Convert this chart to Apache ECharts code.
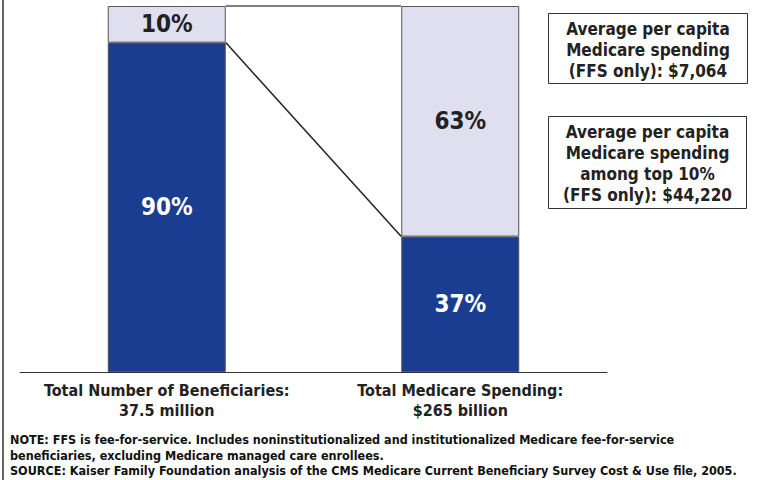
<!DOCTYPE html>
<html>
<head>
<meta charset="utf-8">
<script src="https://cdn.jsdelivr.net/npm/echarts@6/dist/echarts.min.js"></script>
<style>
  html, body { margin: 0; padding: 0; background: #fff; }
  #chart { width: 760px; height: 480px; }
</style>
</head>
<body>
<div id="chart"></div>
<script>
// Share of FFS beneficiaries vs. share of Medicare spending
const categories = ['Total Number of Beneficiaries:\n37.5 million', 'Total Medicare Spending:\n$265 billion'];
const bottom90Share = [90, 37];   // bottom 90% of beneficiaries
const top10Share = [10, 63];      // top 10% of beneficiaries
const boxTexts = [
  'Average per capita\nMedicare spending\n(FFS only): $7,064',
  'Average per capita\nMedicare spending\namong top 10%\n(FFS only): $44,220'
];
const noteLines = [
  'NOTE: FFS is fee-for-service. Includes noninstitutionalized and institutionalized Medicare fee-for-service',
  'beneficiaries, excluding Medicare managed care enrollees.',
  'SOURCE: Kaiser Family Foundation analysis of the CMS Medicare Current Beneficiary Survey Cost & Use file, 2005.'
];

const FONT = '"DejaVu Sans Condensed", "DejaVu Sans", Verdana, sans-serif';
const DARK = '#1b3d91';
const LIGHT = '#dfdfef';
const BAR_W = 118;

// series lines join the segment tops of the two stacked bars
const seriesLineData = [
  [bottom90Share[0], bottom90Share[1]],
  [bottom90Share[0] + top10Share[0], bottom90Share[1] + top10Share[1]]
];

const chart = echarts.init(document.getElementById('chart'), null, { renderer: 'svg' });

chart.setOption({
  animation: false,
  grid: { left: 20, right: 153, top: 6, bottom: 108 },
  xAxis: {
    type: 'category',
    data: categories,
    axisLine: { lineStyle: { color: '#333', width: 1 } },
    axisTick: { show: false },
    axisLabel: {
      interval: 0,
      margin: 8,
      color: '#222',
      fontFamily: FONT,
      fontWeight: 'bold',
      fontSize: 16,
      lineHeight: 20,
      align: 'center'
    }
  },
  yAxis: { type: 'value', min: 0, max: 100, show: false },
  series: [
    {
      type: 'bar',
      stack: 'share',
      barWidth: BAR_W,
      data: bottom90Share,
      itemStyle: { color: DARK, borderColor: '#555', borderWidth: 1 },
      label: {
        show: true, position: 'inside', formatter: '{c}%',
        color: '#fff', fontFamily: FONT, fontWeight: 'bold', fontSize: 24
      }
    },
    {
      type: 'bar',
      stack: 'share',
      barWidth: BAR_W,
      data: top10Share,
      itemStyle: { color: LIGHT, borderColor: '#555', borderWidth: 1 },
      label: {
        show: true, position: 'inside', formatter: '{c}%',
        color: '#222', fontFamily: FONT, fontWeight: 'bold', fontSize: 24
      }
    },
    {
      type: 'custom',
      coordinateSystem: 'cartesian2d',
      silent: true,
      z: 5,
      data: seriesLineData,
      renderItem: function (params, api) {
        const p0 = api.coord([0, api.value(0)]);
        const p1 = api.coord([1, api.value(1)]);
        return {
          type: 'line',
          shape: { x1: p0[0] + BAR_W / 2, y1: p0[1], x2: p1[0] - BAR_W / 2, y2: p1[1] },
          style: { stroke: params.dataIndex === 0 ? '#222' : '#555', lineWidth: 1.5 }
        };
      }
    }
  ],
  graphic: [
    { type: 'line', shape: { x1: 3, y1: 0, x2: 3, y2: 480 }, style: { stroke: '#666', lineWidth: 2 } },
    {
      type: 'group', left: 548, top: 13,
      children: [
        { type: 'rect', shape: { x: 0, y: 0, width: 199, height: 70 }, style: { fill: '#fff', stroke: '#333', lineWidth: 1 } },
        { type: 'text', x: 99.5, y: 36, style: {
          text: boxTexts[0], align: 'center', verticalAlign: 'middle',
          font: 'bold 17px ' + FONT, lineHeight: 21, fill: '#222' } }
      ]
    },
    {
      type: 'group', left: 548, top: 116,
      children: [
        { type: 'rect', shape: { x: 0, y: 0, width: 198, height: 92 }, style: { fill: '#fff', stroke: '#333', lineWidth: 1 } },
        { type: 'text', x: 99, y: 47, style: {
          text: boxTexts[1], align: 'center', verticalAlign: 'middle',
          font: 'bold 17px ' + FONT, lineHeight: 21, fill: '#222' } }
      ]
    },
    {
      type: 'text', left: 10, top: 432,
      style: { text: noteLines.join('\n'), font: 'bold 12.5px ' + FONT, lineHeight: 15.5, fill: '#111' }
    }
  ]
});
</script>
</body>
</html>
